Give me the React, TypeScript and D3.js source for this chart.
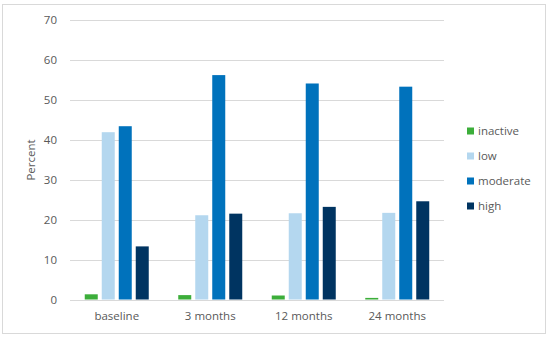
import React, { useRef, useEffect } from 'react';
import * as d3 from 'd3';

const categories = ['baseline', '3 months', '12 months', '24 months'];
const seriesNames = ['inactive', 'low', 'moderate', 'high'];
const inactive = [1.3, 1.1, 1.0, 0.4];
const low = [41.9, 21.1, 21.6, 21.7];
const moderate = [43.4, 56.2, 54.1, 53.3];
const high = [13.3, 21.5, 23.2, 24.6];
const yTicks = [0, 10, 20, 30, 40, 50, 60, 70];
const colors = ['#3cae3a', '#b4d7ef', '#0072bc', '#003461'];

const W = 550;
const H = 338;
const FONT = '"Open Sans", sans-serif';

export default function App() {
    const svgRef = useRef<SVGSVGElement>(null);

    useEffect(() => {
        const svg = d3.select(svgRef.current);
        svg.selectAll('*').remove();

        const values = [inactive, low, moderate, high];
        const rows = categories.map((c, i) => ({
            cat: c,
            vals: seriesNames.map((s, j) => ({ name: s, value: values[j][i], color: colors[j] })),
        }));

        // outer frame
        svg.append('rect')
            .attr('x', 2.5).attr('y', 4.5)
            .attr('width', 543).attr('height', 329)
            .attr('fill', 'white')
            .attr('stroke', '#d9d9d9');

        const x0 = d3.scaleBand().domain(categories).range([70, 444]);
        const bw = x0.bandwidth();
        const x1 = d3.scaleBand().domain(seriesNames)
            .range([(bw - 68) / 2, (bw + 68) / 2])
            .paddingInner(4 / 17)
            .paddingOuter(2 / 17);
        const y = d3.scaleLinear().domain([0, 70]).range([299.5, 20]);

        // grid
        svg.append('g')
            .selectAll('line')
            .data(yTicks)
            .join('line')
            .attr('x1', 70).attr('x2', 444)
            .attr('y1', d => Math.round(y(d)) + 0.5)
            .attr('y2', d => Math.round(y(d)) + 0.5)
            .attr('stroke', '#d9d9d9')
            .attr('stroke-width', 1);

        // y tick labels
        svg.append('g')
            .selectAll('text')
            .data(yTicks)
            .join('text')
            .attr('x', 57)
            .attr('y', d => y(d))
            .attr('dy', '0.35em')
            .attr('text-anchor', 'end')
            .attr('font-family', FONT)
            .attr('font-size', 11.5)
            .attr('fill', '#595959')
            .text(d => d);

        svg.append('text')
            .attr('transform', 'translate(31,160) rotate(-90)')
            .attr('text-anchor', 'middle')
            .attr('dy', '0.35em')
            .attr('font-family', FONT)
            .attr('font-size', 11.5)
            .attr('fill', '#595959')
            .text('Percent');

        // bars
        const groups = svg.append('g')
            .selectAll('g')
            .data(rows)
            .join('g')
            .attr('transform', d => `translate(${x0(d.cat)},0)`);

        groups.selectAll('rect')
            .data(d => d.vals)
            .join('rect')
            .attr('x', d => x1(d.name)!)
            .attr('width', x1.bandwidth())
            .attr('y', d => y(d.value))
            .attr('height', d => y(0) - y(d.value))
            .attr('fill', d => d.color);

        // category labels
        svg.append('g')
            .selectAll('text')
            .data(categories)
            .join('text')
            .attr('x', d => x0(d)! + bw / 2)
            .attr('y', 316)
            .attr('dy', '0.35em')
            .attr('text-anchor', 'middle')
            .attr('font-family', FONT)
            .attr('font-size', 11.5)
            .attr('fill', '#595959')
            .text(d => d);

        // legend
        const legend = svg.append('g')
            .selectAll('g')
            .data(seriesNames)
            .join('g')
            .attr('transform', (d, i) => `translate(467,${131 + i * 25})`);

        legend.append('rect')
            .attr('x', 0).attr('y', -3.5)
            .attr('width', 7).attr('height', 7)
            .attr('fill', (d, i) => colors[i]);

        legend.append('text')
            .attr('x', 11)
            .attr('dy', '0.35em')
            .attr('font-family', FONT)
            .attr('font-size', 11.5)
            .attr('fill', '#595959')
            .text(d => d);
    }, []);

    return (
        <svg ref={svgRef} width={W} height={H}
            style={{ position: 'absolute', left: 0, top: 0, display: 'block' }} />
    );
}
